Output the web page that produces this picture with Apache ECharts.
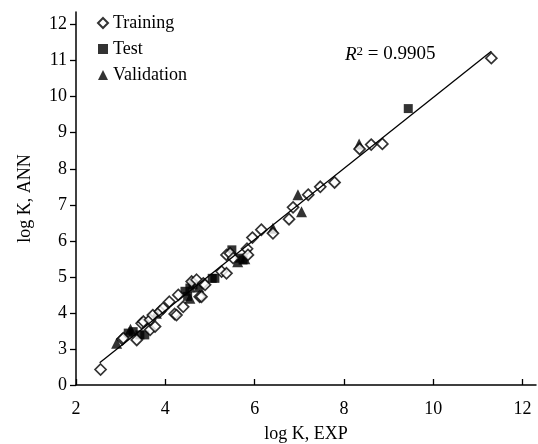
<!DOCTYPE html>
<html>
<head>
<meta charset="utf-8">
<script src="https://cdn.jsdelivr.net/npm/echarts@6/dist/echarts.min.js"></script>
<style>
  html, body { margin: 0; padding: 0; background: #fff; }
  #chart { width: 538px; height: 444px; }
</style>
</head>
<body>
<div id="chart"></div>
<script>
// log K values: [EXP, ANN]
var training = [
  [2.55, 2.43], [3.04, 3.27], [3.06, 3.30], [3.36, 3.25], [3.47, 3.71], [3.51, 3.76],
  [3.66, 3.53], [3.66, 3.81], [3.72, 3.94], [3.77, 3.62], [3.88, 4.04], [3.95, 4.13],
  [4.09, 4.31], [4.21, 3.97], [4.25, 3.94], [4.29, 4.50], [4.40, 4.17], [4.59, 4.87],
  [4.70, 4.92], [4.77, 4.45], [4.81, 4.45], [4.85, 4.82], [4.89, 4.78], [5.26, 5.15],
  [5.37, 5.10], [5.37, 5.61], [5.45, 5.65], [5.52, 5.52], [5.83, 5.78], [5.85, 5.61],
  [5.95, 6.09], [6.15, 6.31], [6.41, 6.21], [6.77, 6.60], [6.86, 6.93], [7.20, 7.28],
  [7.47, 7.50], [7.79, 7.62], [8.35, 8.55], [8.61, 8.67], [8.86, 8.69], [11.30, 11.07]
];
var test = [
  [3.17, 3.44], [3.28, 3.48], [3.43, 3.39], [3.54, 3.39], [4.44, 4.60], [4.50, 4.46],
  [4.55, 4.69], [4.62, 4.78], [5.05, 4.96], [5.11, 4.96], [5.49, 5.75], [5.67, 5.52],
  [5.74, 5.47], [9.44, 9.67]
];
var validation = [
  [2.91, 3.16], [3.22, 3.55], [3.80, 3.99], [4.55, 4.41], [4.75, 4.72], [5.62, 5.42],
  [5.78, 5.50], [6.41, 6.35], [6.97, 7.28], [7.05, 6.81], [8.34, 8.69]
];
var fitLine = [[2.53, 2.62], [11.30, 11.26]];
var xTicks = [2, 4, 6, 8, 10, 12];
var yTicks = [2, 3, 4, 5, 6, 7, 8, 9, 10, 11, 12];
var legendNames = ['Training', 'Test', 'Validation'];

var font = 'Liberation Serif';
var chart = echarts.init(document.getElementById('chart'));

var option = {
  animation: false,
  backgroundColor: '#fff',
  textStyle: { fontFamily: font, color: '#000' },
  grid: { left: 76, top: 12, right: 2, bottom: 59, outerBoundsMode: 'none' },
  legend: {
    data: legendNames,
    orient: 'vertical',
    left: 92,
    top: 9,
    itemGap: 8,
    itemWidth: 10,
    itemHeight: 10,
    textStyle: { fontFamily: font, fontSize: 18, color: '#000' }
  },
  xAxis: {
    type: 'value',
    min: 2,
    max: 12.3,
    interval: 2,
    name: 'log K, EXP',
    nameLocation: 'middle',
    nameGap: 40,
    nameTextStyle: { fontFamily: font, fontSize: 18, color: '#000' },
    axisLine: { lineStyle: { color: '#000', width: 1.5 } },
    axisTick: { inside: true, length: 6, customValues: xTicks, lineStyle: { color: '#000', width: 1.3 } },
    axisLabel: { customValues: xTicks, margin: 15, fontFamily: font, fontSize: 18, color: '#000' },
    splitLine: { show: false }
  },
  yAxis: {
    type: 'value',
    min: 2,
    max: 12.35,
    interval: 1,
    name: 'log K, ANN',
    nameLocation: 'middle',
    nameRotate: 90,
    nameGap: 42,
    nameTextStyle: { fontFamily: font, fontSize: 18, color: '#000' },
    axisLine: { lineStyle: { color: '#000', width: 1.5 } },
    axisTick: { inside: false, length: 6, customValues: yTicks, lineStyle: { color: '#000', width: 1.3 } },
    axisLabel: {
      customValues: yTicks,
      margin: 9,
      fontFamily: font,
      fontSize: 18,
      color: '#000',
      formatter: function (v) { return v === 2 ? '0' : String(v); }
    },
    splitLine: { show: false }
  },
  graphic: [{
    type: 'text',
    left: 345,
    top: 45,
    style: {
      text: '{i|R}{s|2}{n| = 0.9905}',
      rich: {
        i: { fontFamily: font, fontSize: 19, fontStyle: 'italic', fill: '#000' },
        s: { fontFamily: font, fontSize: 13, verticalAlign: 'top', fill: '#000' },
        n: { fontFamily: font, fontSize: 19, fill: '#000' }
      }
    }
  }],
  series: [
    {
      name: 'fit',
      type: 'line',
      data: fitLine,
      symbol: 'none',
      silent: true,
      lineStyle: { color: '#000', width: 1.3 }
    },
    {
      name: 'Validation',
      type: 'scatter',
      data: validation,
      symbol: 'triangle',
      symbolSize: 11,
      itemStyle: { color: '#000' }
    },
    {
      name: 'Test',
      type: 'scatter',
      data: test,
      symbol: 'rect',
      symbolSize: 9,
      itemStyle: { color: '#000' }
    },
    {
      name: 'Training',
      type: 'scatter',
      data: training,
      symbol: 'diamond',
      symbolSize: 11,
      itemStyle: { color: '#fff', borderColor: '#000', borderWidth: 1.7 }
    }
  ]
};

chart.setOption(option);
</script>
</body>
</html>
